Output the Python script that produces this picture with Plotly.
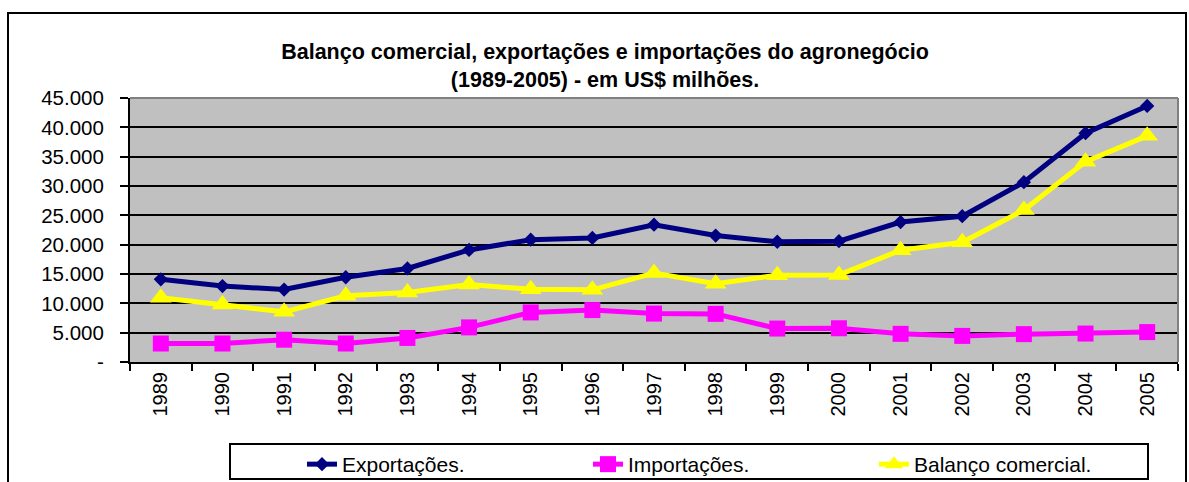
import plotly.graph_objects as go

# dados (US$ milhões)
anos = [str(a) for a in range(1989, 2006)]
exportacoes = [14100, 12950, 12350, 14450, 15950, 19100, 20850, 21150, 23400, 21550,
               20500, 20600, 23850, 24850, 30650, 39000, 43650]
importacoes = [3150, 3150, 3800, 3150, 4100, 5900, 8450, 8850, 8250, 8200,
               5700, 5750, 4800, 4450, 4750, 4850, 5100]
balanco = [10950, 9800, 8550, 11300, 11850, 13200, 12400, 12300, 15150, 13350,
           14800, 14850, 19050, 20400, 25900, 34150, 38550]

y_ticks = [0, 5000, 10000, 15000, 20000, 25000, 30000, 35000, 40000, 45000]
y_labels = ["-", "5.000", "10.000", "15.000", "20.000", "25.000", "30.000", "35.000", "40.000", "45.000"]

FONT = "Liberation Sans, Arial, sans-serif"

# plot area in pixels (for placing the boxes)
L, R, T, B = 130, 1178, 98, 362
W, H = R - L, B - T


def px(x):
    return (x - L) / W


def py(y):
    return (B - y) / H


fig = go.Figure()
fig.add_trace(go.Scatter(x=anos, y=exportacoes, name="Exportações.", mode="lines+markers",
                         line=dict(color="#000080", width=5),
                         marker=dict(symbol="diamond", size=11, color="#000080")))
fig.add_trace(go.Scatter(x=anos, y=importacoes, name="Importações.", mode="lines+markers",
                         line=dict(color="#FF00FF", width=5),
                         marker=dict(symbol="square", size=16, color="#FF00FF")))
fig.add_trace(go.Scatter(x=anos, y=balanco, name="Balanço comercial.", mode="lines+markers",
                         line=dict(color="#FFFF00", width=5),
                         marker=dict(symbol="triangle-up", size=19, color="#FFFF00")))

fig.update_layout(
    width=1189, height=482,
    margin=dict(l=L, r=1189 - R, t=T, b=482 - B, autoexpand=False),
    paper_bgcolor="white",
    plot_bgcolor="#C0C0C0",
    font=dict(family=FONT, color="black", size=20.5),
    title=dict(text="<b>Balanço comercial, exportações e importações do agronegócio<br>(1989-2005) - em US$ milhões.</b>",
               x=605 / 1189, xanchor="center", xref="container",
               y=1 - 59 / 482, yanchor="middle", yref="container",
               font=dict(size=21.5, family=FONT, color="black")),
    showlegend=True,
    legend=dict(orientation="h", x=px(302), xanchor="left", y=py(444), yanchor="top",
                bgcolor="rgba(0,0,0,0)", borderwidth=0,
                entrywidth=241, entrywidthmode="pixels",
                font=dict(size=21, family=FONT)),
)

fig.update_xaxes(type="category", tickson="boundaries", tickangle=-90,
                 showline=True, linecolor="black", linewidth=2,
                 ticks="outside", ticklen=7, tickwidth=2, tickcolor="black",
                 showgrid=False, range=[-0.5, 16.5], tickfont=dict(size=20),
                 automargin=False)
fig.update_yaxes(range=[0, 45000], tickmode="array", tickvals=y_ticks, ticktext=y_labels,
                 showline=True, linecolor="black", linewidth=2,
                 ticks="outside", ticklen=8, tickwidth=2, tickcolor="black",
                 showgrid=True, gridcolor="black", gridwidth=2,
                 zeroline=False, ticklabelstandoff=12, tickfont=dict(size=20.5),
                 automargin=False)

# bordas: topo/direita cinza da área de plotagem, caixa da legenda e moldura externa
fig.add_shape(type="line", xref="paper", yref="paper", x0=0, x1=1, y0=1, y1=1,
              line=dict(color="#808080", width=2), layer="above")
fig.add_shape(type="line", xref="paper", yref="paper", x0=1, x1=1, y0=0, y1=1,
              line=dict(color="#808080", width=2), layer="above")
fig.add_shape(type="rect", xref="paper", yref="paper",
              x0=px(230), x1=px(1148), y0=py(479), y1=py(444),
              line=dict(color="black", width=2), fillcolor="rgba(0,0,0,0)")
fig.add_shape(type="rect", xref="paper", yref="paper",
              x0=px(8), x1=px(1186), y0=py(500), y1=py(13),
              line=dict(color="black", width=2), fillcolor="rgba(0,0,0,0)")

fig.write_html("out.html", config={"displayModeBar": False},
               post_script="document.body.style.margin='0';")
